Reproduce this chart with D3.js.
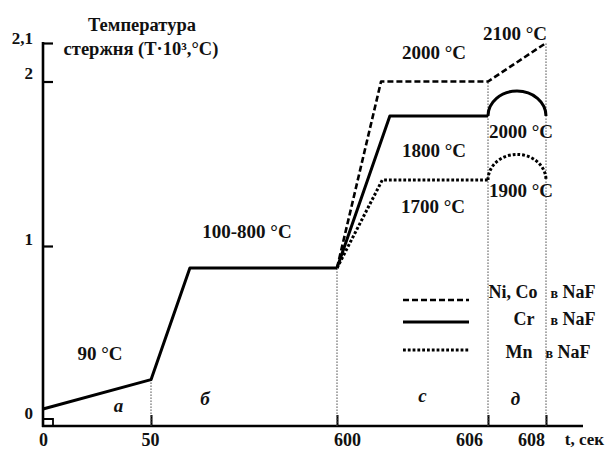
<!DOCTYPE html>
<html>
<head>
<meta charset="utf-8">
<script src="https://cdn.jsdelivr.net/npm/d3@7/dist/d3.min.js"></script>
<style>
  html, body { margin: 0; padding: 0; background: #fff; }
  svg text { font-family: "Liberation Serif", "Times New Roman", serif; font-weight: bold; fill: #111; }
</style>
</head>
<body>
<svg id="chart" width="606" height="452"></svg>
<script>
// Time breakpoints (s) and temperature (T·10³ °C)
const timeTicks = [0, 50, 600, 606, 608];
const timeTickLabels = ["0", "50", "600", "606", "608"];
const tempTicks = [0, 1, 2, 2.1];
const tempTickLabels = ["0", "1", "2", "2,1"];

// Common heating profile, stages а and б
const baseTime = [0, 50, 165, 600];
const baseTemp = [0, 0.18, 0.865, 0.865];

// Stage с/д profiles per metal
const niTime = [600, 601.75, 606, 608];
const niTemp = [0.865, 2.0, 2.0, 2.1];
const crTime = [600, 602.1, 606];
const crTemp = [0.865, 1.8, 1.8];
const mnTime = [600, 601.8, 606];
const mnTemp = [0.865, 1.7, 1.7];
// Stage д arcs: start/end level and peak
const crArc = { t0: 606, t1: 608, base: 1.8, peak: 1.945 };
const mnArc = { t0: 606, t1: 608, base: 1.7, peak: 1.74 };

// Stage boundaries with guide heights
const guideTime = [50, 600, 606, 608];
const guideTemp = [0.18, 0.865, 2.0, 2.1];

const stageNames = ["а", "б", "с", "д"];
const stageTimes = [35, 210, 603.4, 606.95];

const legendNames = ["Ni, Co", "Cr", "Mn"];

const svg = d3.select("#chart");

// Piecewise scales (schematic, non-uniform axes)
const x = d3.scaleLinear().domain(timeTicks).range([43, 151, 337, 488, 546]);
const y = d3.scaleLinear().domain([0, 1, 1.7, 1.8, 2, 2.1]).range([409, 246, 180, 116, 81.5, 43]);
const axisY = 426;
const axisRight = 583;

// Y axis
const yAxis = d3.axisLeft(y).tickValues(tempTicks)
  .tickFormat((d, i) => tempTickLabels[i])
  .tickSizeInner(-10).tickSizeOuter(0).tickPadding(10);
const yg = svg.append("g").attr("transform", "translate(43,0)").call(yAxis);
yg.select(".domain").remove();
yg.selectAll(".tick line").attr("stroke", "#000").attr("stroke-width", 2.2)
  .filter(d => d === 0).remove();
const yLabelShift = { 0: 3, 1: -8, 2: -9, 2.1: -6 };
yg.selectAll(".tick text").attr("font-size", 17).attr("fill", "#111")
  .attr("font-family", "Liberation Serif, serif").attr("font-weight", "bold")
  .attr("dy", d => (yLabelShift[d] + 6) + "px");
svg.append("line").attr("x1", 43).attr("x2", 43).attr("y1", y(2.1) - 1).attr("y2", axisY + 1)
  .attr("stroke", "#000").attr("stroke-width", 2.6);

// X axis
const xAxis = d3.axisBottom(x).tickValues(timeTicks)
  .tickFormat((d, i) => timeTickLabels[i])
  .tickSizeInner(-11).tickSizeOuter(0).tickPadding(7);
const xg = svg.append("g").attr("transform", `translate(0,${axisY})`).call(xAxis);
xg.select(".domain").remove();
xg.selectAll(".tick line").attr("stroke", "#000").attr("stroke-width", 2)
  .filter(d => d === 0).remove();
const xLabelShift = { 0: 0, 50: -1, 600: 10, 606: -19, 608: -15 };
xg.selectAll(".tick text").attr("font-size", 18).attr("fill", "#111")
  .attr("font-family", "Liberation Serif, serif").attr("font-weight", "bold")
  .attr("dx", d => xLabelShift[d]);
svg.append("line").attr("x1", 42).attr("x2", axisRight).attr("y1", axisY).attr("y2", axisY)
  .attr("stroke", "#000").attr("stroke-width", 2.6);
// origin marker
svg.append("path").attr("d", `M43,${axisY - 7}H${x(0) + 10}V${axisY}`)
  .attr("fill", "none").attr("stroke", "#000").attr("stroke-width", 1.8);

svg.append("text").attr("x", 604).attr("y", 445).attr("font-size", 17).attr("text-anchor", "end").text("t, сек");

// Axis title
svg.append("text").attr("x", 142).attr("y", 31).attr("font-size", 18.5).attr("text-anchor", "middle").text("Температура");
svg.append("text").attr("x", 141).attr("y", 55).attr("font-size", 18.5).attr("text-anchor", "middle").text("стержня (T·10³,°C)");

// Stage boundary guides
svg.append("g").selectAll("line").data(guideTime).join("line")
  .attr("x1", d => x(d)).attr("x2", d => x(d))
  .attr("y1", axisY).attr("y2", (d, i) => y(guideTemp[i]))
  .attr("stroke", "#555").attr("stroke-width", 1).attr("stroke-dasharray", "1.6,1.4");

const line = d3.line().x(d => x(d[0])).y(d => y(d[1]));
const zip = (a, b) => a.map((v, i) => [v, b[i]]);

const solidStyle = { w: 3, dash: null };
const dashStyle = { w: 2.6, dash: "6,3" };
const dotStyle = { w: 3, dash: "2.8,2" };

function drawPath(d, s) {
  const p = svg.append("path").attr("d", d).attr("fill", "none")
    .attr("stroke", "#000").attr("stroke-width", s.w).attr("stroke-linejoin", "round");
  if (s.dash) p.attr("stroke-dasharray", s.dash);
  return p;
}
function arcPath(a) {
  const x0 = x(a.t0), x1 = x(a.t1), yb = y(a.base);
  const rx = (x1 - x0) / 2, ry = yb - y(a.peak);
  return `M${x0},${yb}A${rx},${ry} 0 0 1 ${x1},${yb}`;
}

drawPath(line(zip(baseTime, baseTemp)), solidStyle);
drawPath(line(zip(mnTime, mnTemp)), dotStyle);
drawPath(arcPath(mnArc), dotStyle);
drawPath(line(zip(niTime, niTemp)), dashStyle);
drawPath(line(zip(crTime, crTemp)), solidStyle);
drawPath(arcPath(crArc), solidStyle);

// Temperature annotations
const notes = [
  { t: "90 °C", x: 100, y: 360 },
  { t: "100-800 °C", x: 247, y: 238 },
  { t: "2000 °C", x: 434, y: 59 },
  { t: "2100 °C", x: 515, y: 40 },
  { t: "2000 °C", x: 521, y: 138 },
  { t: "1800 °C", x: 434, y: 157 },
  { t: "1900 °C", x: 521, y: 197 },
  { t: "1700 °C", x: 433, y: 213 }
];
svg.append("g").selectAll("text").data(notes).join("text")
  .attr("x", d => d.x).attr("y", d => d.y).attr("font-size", 19)
  .attr("text-anchor", "middle").text(d => d.t);

// Stage letters
svg.append("g").selectAll("text").data(stageNames).join("text")
  .attr("x", (d, i) => x(stageTimes[i])).attr("y", (d, i) => [412, 405, 402, 405][i])
  .attr("font-size", 19).attr("font-style", "italic").attr("text-anchor", "middle").text(d => d);

// Legend
const legStyles = [dashStyle, solidStyle, dotStyle];
const legY = [300, 322, 350];
const legNameX = [513, 524, 519];
const legNaFX = [573, 573, 568];
legendNames.forEach((n, i) => {
  drawPath(`M403,${legY[i]}H469`, legStyles[i]);
  svg.append("text").attr("x", legNameX[i]).attr("y", legY[i] + (i === 2 ? 8 : i === 1 ? 3 : -2))
    .attr("font-size", 18).attr("text-anchor", "middle").text(n);
  svg.append("text").attr("x", legNaFX[i]).attr("y", legY[i] + (i === 2 ? 8 : i === 1 ? 3 : -2))
    .attr("font-size", 18).attr("text-anchor", "middle")
    .html(`<tspan font-size="14">в</tspan> NaF`);
});
</script>
</body>
</html>
